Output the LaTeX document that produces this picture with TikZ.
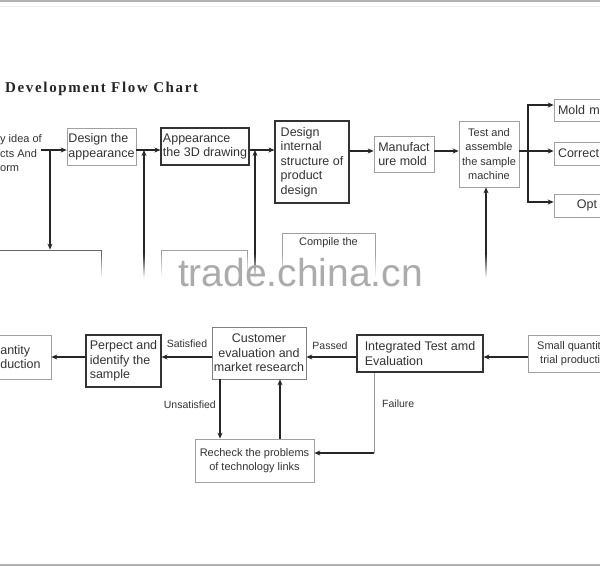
\documentclass[tikz,border=0pt]{standalone}
\usepackage{fontspec}
\setmainfont{Liberation Sans}
\newfontfamily\titlefont[LetterSpace=11]{Liberation Serif}
\usetikzlibrary{arrows.meta}
\definecolor{txt}{HTML}{333333}
\definecolor{lbox}{HTML}{A0A0A0}
\definecolor{dbox}{HTML}{333333}
\begin{document}
\begin{tikzpicture}[x=1pt,y=-1pt,
  every node/.style={text=txt, font=\fontsize{12.5}{14.6}\selectfont},
  lightbox/.style={draw=lbox, line width=0.7pt, inner xsep=1pt, inner ysep=0pt, align=left},
  darkbox/.style={draw=dbox, line width=1.1pt, inner xsep=1pt, inner ysep=0pt, align=left},
  arr/.style={draw=black!85, line width=1.2pt, -{Stealth[length=6pt,width=5pt]}},
  ln/.style={draw=black!85, line width=1.2pt},
  lbl/.style={font=\fontsize{10.5}{12}\selectfont, text=txt, inner sep=0pt},
  smallfont/.style={font=\fontsize{11}{14.6}\selectfont}
]
\useasboundingbox (0,0) rectangle (600,566);
\fill[white] (0,0) rectangle (600,566);
\draw[black!30, line width=2pt] (0,1) -- (600,1);
\draw[black!7, line width=1pt] (0,6.5) -- (600,6.5);
\draw[black!30, line width=2pt] (0,565) -- (600,565);

% title
\node[anchor=base west, inner sep=0pt, text=black!85, font=\titlefont\bfseries\fontsize{15}{18}\selectfont] (title) at (5,92) {Development Flow Chart};

% ---------- top row ----------
\node[anchor=west, inner sep=0pt, align=left, font=\fontsize{11}{14.5}\selectfont] (idea) at (0,153.5) {y idea of\\cts And\\orm};
\node[lightbox, minimum width=69pt, minimum height=37pt] (design) at (101.5,146.5) {Design the\\appearance};
\node[darkbox, minimum width=88pt, minimum height=37pt] (appear) at (205,146.5) {Appearance\\the 3D drawing};
\node[darkbox, inner xsep=4pt, minimum width=74pt, minimum height=82pt] (internal) at (312,162) {Design\\internal\\structure of\\product\\design};
\node[lightbox, minimum width=60pt, minimum height=36pt] (manuf) at (404,154) {Manufact\\ure mold};
\node[lightbox, smallfont, align=center, minimum width=60pt, minimum height=66pt] (test) at (489,154) {Test and\\assemble\\the sample\\machine};
\node[lightbox, inner xsep=4pt, text width=58pt, minimum height=22pt] (mold) at (587,110) {Mold m};
\node[lightbox, inner xsep=4pt, text width=58pt, minimum height=23pt] (correct) at (587,153.5) {Correct};
\node[lightbox, inner xsep=4pt, align=center, text width=58pt, minimum height=23pt] (opt) at (587,205.5) {Opt};

% boxes cut by the blurred band
\node[draw=black!60, line width=0.8pt, minimum width=111pt, minimum height=50pt, inner sep=0pt] (bandA) at (45.5,275) {};
\node[draw=lbox, line width=0.7pt, minimum width=86pt, minimum height=50pt, inner sep=0pt] (bandB) at (204,275) {};
\node[draw=lbox, line width=0.7pt, minimum width=93pt, minimum height=67pt, inner sep=0pt] (compile) at (328.5,266.5) {};
\node[smallfont, inner sep=0pt] (ctext) at (328.5,243) {Compile the};

\coordinate (r1) at (0,150);
\coordinate (r2) at (0,151);
\coordinate (ideaout) at (41,150);
\coordinate (j1) at (50,150);
\coordinate (u1) at (144,290);
\coordinate (u2) at (255,290);
\coordinate (u3) at (486,290);
\coordinate (bus) at (528,151);
\coordinate (b1) at (528,105);
\coordinate (b3) at (528,202);

\draw[arr] (ideaout) -- (design.west|-r1);
\draw[arr] (j1) -- (j1|-bandA.north);
\draw[arr] (design.east|-r1) -- (appear.west|-r1);
\draw[arr] (u1) -- (u1|-r1);
\draw[arr] (appear.east|-r1) -- (internal.west|-r1);
\draw[arr] (u2) -- (u2|-r1);
\draw[arr] (internal.east|-r2) -- (manuf.west|-r2);
\draw[arr] (manuf.east|-r2) -- (test.west|-r2);
\draw[arr] (u3) -- (u3|-test.south);
\draw[arr] (test.east|-bus) -- (correct.west|-bus);
\draw[arr] (bus) -- (b1) -- (b1-|mold.west);
\draw[arr] (bus) -- (b3) -- (b3-|opt.west);

% blurred band
\foreach \i in {0,...,11}{
  \fill[white, opacity={(\i+1)/12}] (-5,{255+2*\i}) rectangle (605,{257+2*\i});
}
\fill[white] (-5,279) rectangle (605,312);
\node[anchor=base, inner sep=0pt, text=black!33, font=\fontsize{39}{40}\selectfont] (wm) at (300.5,286) {trade.china.cn};

% ---------- bottom row ----------
\node[lightbox, minimum width=61pt, minimum height=44pt] (qty) at (20.5,357) {antity\\duction};
\node[darkbox, minimum width=75pt, minimum height=52pt] (perp) at (123.5,361) {Perpect and\\identify the\\sample};
\node[lightbox, draw=black!50, align=center, minimum width=94pt, minimum height=52pt] (cust) at (259,353) {Customer\\evaluation and\\market research};
\node[darkbox, minimum width=126pt, minimum height=37pt] (integ) at (420,353.5) {Integrated Test amd\\Evaluation};
\node[lightbox, smallfont, minimum width=82pt, minimum height=37pt] (small) at (569,353.5) {Small quantit\\\hspace*{3pt}trial producti};
\node[lightbox, smallfont, align=center, minimum width=119pt, minimum height=43pt] (recheck) at (254.5,460.5) {Recheck the problems\\of technology links};

\coordinate (r3) at (0,357);
\coordinate (d1) at (220,0);
\coordinate (d2) at (280,0);
\coordinate (f1) at (374,453);

\draw[arr] (small.west|-r3) -- (integ.east|-r3);
\draw[arr] (integ.west|-r3) -- (cust.east|-r3);
\draw[arr] (cust.west|-r3) -- (perp.east|-r3);
\draw[arr] (perp.west|-r3) -- (qty.east|-r3);
\draw[arr] (cust.south-|d1) -- (recheck.north-|d1);
\draw[arr] (recheck.north-|d2) -- (cust.south-|d2);
\draw[draw=black!40, line width=0.8pt] (integ.south-|f1) -- (f1);
\draw[arr] (f1) -- (recheck.east|-f1);

\node[lbl] (passed) at (330,346) {Passed};
\node[lbl] (sat) at (187,344) {Satisfied};
\node[lbl, anchor=east] (unsat) at (216,405) {Unsatisfied};
\node[lbl, anchor=west] (fail) at (382,404) {Failure};
\end{tikzpicture}
\end{document}
